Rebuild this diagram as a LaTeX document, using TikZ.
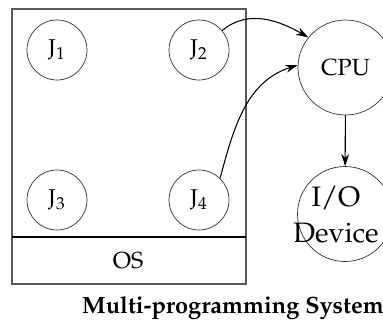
\documentclass[tikz,border=0pt]{standalone}
\usepackage[T1]{fontenc}
\usepackage{mathpazo}
\usepackage{tikz}
\usetikzlibrary{arrows.meta}

\begin{document}
\begin{tikzpicture}[
  job/.style={draw=black!80, circle, minimum size=1.2cm, inner sep=0pt, font=\fontsize{13}{15}\selectfont},
  unit/.style={draw=black!80, circle, minimum size=1.9cm, inner sep=0pt},
  flow/.style={-{Stealth[length=7pt,width=4.5pt]}, semithick}
]
  \useasboundingbox (0,0) rectangle (7.66,6.4);
  % Memory, with the OS at the bottom
  \draw[black!65, semithick] (0.24,0.72) rectangle (4.92,6.22);
  \draw[thick] (0.24,1.66) -- (4.92,1.66);
  \node[font=\fontsize{13.2}{15}\selectfont] (os) at (2.56,1.18) {OS};
  % Jobs in memory
  \node[job] (j1) at (1.14,5.4) {J$_1$};
  \node[job] (j2) at (3.98,5.4) {J$_2$};
  \node[job] (j3) at (1.14,2.4) {J$_3$};
  \node[job] (j4) at (3.98,2.4) {J$_4$};
  % CPU and I/O device
  \node[unit, font=\fontsize{13.3}{16}\selectfont] (cpu) at (6.91,5.05) {CPU};
  \node[unit] (io) at (6.9,2.12) {};
  \node[align=center, font=\fontsize{16}{20.5}\selectfont] (iotext) at (6.72,2.1) {I/O\\Device};
  % Arrows
  \draw[flow] (j2.40) to[out=40,in=150] (cpu.141);
  \draw[flow] (j4.46) to[out=75,in=198] (cpu.177);
  \draw[flow] (cpu) -- (io);
  % Caption
  \node[font=\bfseries\fontsize{13.4}{15}\selectfont, anchor=base] (caption) at (4.66,0.14) {Multi-programming System};
\end{tikzpicture}
\end{document}
